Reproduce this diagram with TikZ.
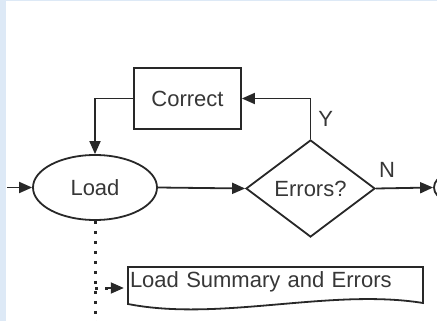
\documentclass[tikz,border=0pt]{standalone}
\usepackage{fontspec}
\setmainfont{Liberation Sans}
\usepackage{xcolor}
\usepackage{tikz}
\usetikzlibrary{calc, positioning, arrows.meta, shapes.geometric}
\definecolor{edgeblue}{RGB}{221,233,246}
\definecolor{inkgray}{RGB}{40,40,40}
\definecolor{textgray}{RGB}{55,55,55}
\tikzset{
    flowfont/.style={font=\fontsize{22}{26}\selectfont, text=textgray},
    procbox/.style={rectangle, draw=inkgray, line width=1.8pt, fill=white, flowfont, minimum width=107pt, minimum height=61pt, inner sep=0pt},
    loadoval/.style={ellipse, draw=inkgray, line width=1.8pt, fill=white, flowfont, minimum width=124pt, minimum height=65pt, inner sep=0pt},
    decisionnode/.style={diamond, draw=inkgray, line width=1.8pt, fill=white, flowfont, minimum width=129pt, minimum height=97pt, inner sep=0pt},
    doctext/.style={flowfont, inner xsep=2pt, inner ysep=0pt, text width=291pt, align=left},
    endcirc/.style={circle, draw=inkgray, line width=1.8pt, minimum size=22pt, inner sep=0pt},
    flowarrow/.style={-{Triangle[length=13pt, width=11pt]}, draw=inkgray, line width=1.8pt},
    dotline/.style={draw=inkgray, line width=3pt, dash pattern=on 3pt off 7pt},
    flowlabel/.style={flowfont, inner sep=0pt}
}

\begin{document}
\begin{tikzpicture}[x=1pt, y=-1pt]
    % Frame
    \clip (0,0) rectangle (437,321);
    \useasboundingbox (0,0) rectangle (437,321);
    \fill[edgeblue] (0,0) rectangle (437,321);
    \fill[white] (6,1) rectangle (437,321);

    % Nodes
    \node[loadoval] (load) at (95,187.5) {Load};
    \node[decisionnode] (errors) at (310.5,188.5) {Errors?};
    \node[procbox] (correct) at (187.5,98.5) {Correct};
    \node[endcirc] (stop) at (445,187.5) {};
    \node[doctext] (summary) at (275.5,282) {Load Summary and Errors};

    % Document outline
    \draw[draw=inkgray, line width=1.8pt] (128,304) -- (128,267) -- (423,267) -- (423,303)
        .. controls (330,288) and (220,322) .. (128,304) -- cycle;

    % Coordinates
    \coordinate (start) at (7,187.5);
    \coordinate (branch) at (95,288);
    \coordinate (tail) at (95,330);

    % Connectors
    \draw[flowarrow] (start) -- (load.west);
    \draw[flowarrow] (load.east) -- (errors.west);
    \draw[flowarrow] (errors.east) -- (stop.west);
    \draw[flowarrow] (errors.north) |- node[flowlabel, pos=0.25, right, xshift=7pt] {Y} (correct.east);
    \draw[flowarrow] (correct.west) -| (load.north);
    \node[flowlabel, anchor=south west] at ($(errors.east)+(3,-11)$) {N};

    % Dotted output
    \draw[dotline] (load.south) -- (tail);
    \draw[dotline] (branch) -- ($(branch -| summary.west)+(-20,0)$);
    \draw[flowarrow] ($(branch -| summary.west)+(-21,0)$) -- ($(branch -| summary.west)+(-4,0)$);
\end{tikzpicture}
\end{document}
